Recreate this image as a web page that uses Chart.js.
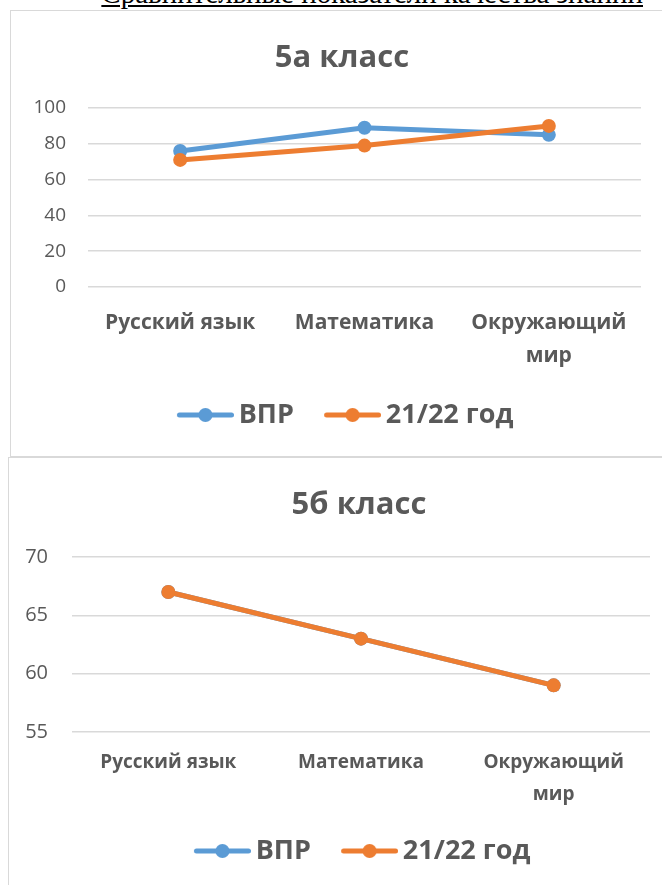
<!DOCTYPE html>
<html>
<head>
<meta charset="utf-8">
<script src="https://cdn.jsdelivr.net/npm/chart.js@4/dist/chart.umd.min.js"></script>
<style>
  html, body { margin: 0; padding: 0; background: #fff; overflow: hidden; }
  body { width: 662px; height: 885px; position: relative; }
  .caption {
    position: absolute; right: 19px; top: -21px;
    font-family: "Liberation Serif", serif; font-size: 29px; line-height: 29px;
    color: #000; text-decoration: underline; white-space: nowrap;
  }
  .box { position: absolute; border: 1px solid #d9d9d9; background: #fff; }
  #box1 { left: 10px; top: 10px; width: 700px; height: 445px; }
  #box2 { left: 8px; top: 457px; width: 720px; height: 440px; }
  canvas { position: absolute; left: 0; top: 0; }
</style>
</head>
<body>
<div class="caption">Сравнительные показатели качества знаний</div>
<div class="box" id="box1"><canvas id="chart1" width="662" height="445"></canvas></div>
<div class="box" id="box2"><canvas id="chart2" width="700" height="427"></canvas></div>
<script>
const categories = ['Русский язык', 'Математика', ['Окружающий', 'мир']];
const seriesNames = ['ВПР', '21/22 год'];

// 5а класс
const vpr5a = [76, 89, 85];
const year5a = [71, 79, 90];
const ticks5a = { min: 0, max: 100, step: 20 };

// 5б класс
const vpr5b = [67, 63, 59];
const year5b = [67, 63, 59];
const ticks5b = { min: 55, max: 70, step: 5 };

const BLUE = '#5B9BD5';
const ORANGE = '#ED7D31';
const TEXT = '#595959';
const GRID = '#D9D9D9';
const FONT = "'Open Sans', sans-serif";

// legend marker: line with a dot, pushed to the right side of the image
// so it sits close to its label and leaves a gap after the previous item
function makeMarker(color) {
    const c = document.createElement('canvas');
    c.width = 72; c.height = 16;
    const g = c.getContext('2d');
    g.strokeStyle = color;
    g.lineWidth = 5;
    g.lineCap = 'round';
    g.beginPath(); g.moveTo(17.5, 8); g.lineTo(69.5, 8); g.stroke();
    g.fillStyle = color;
    g.beginPath(); g.arc(43.5, 8, 7, 0, Math.PI * 2); g.fill();
    return c;
}
const markers = [makeMarker(BLUE), makeMarker(ORANGE)];

function makeChart(id, title, vpr, year, yt, opt) {
    const ctx = document.getElementById(id).getContext('2d');
    const ds = (label, data, color, order) => ({
        label: label,
        data: data,
        order: order, // orange drawn on top like in Excel
        borderColor: color,
        backgroundColor: color,
        borderWidth: 5,
        pointRadius: 7,
        pointHoverRadius: 7,
        pointBorderWidth: 0,
        tension: 0
    });
    return new Chart(ctx, {
        type: 'line',
        data: {
            labels: categories,
            datasets: [ds(seriesNames[0], vpr, BLUE, 1), ds(seriesNames[1], year, ORANGE, 0)]
        },
        options: {
            responsive: false,
            animation: false,
            layout: { padding: { left: 0, right: 0, top: 0, bottom: opt.padBottom } },
            plugins: {
                title: {
                    display: true,
                    text: title,
                    color: TEXT,
                    font: { family: FONT, size: 31, weight: 'bold', lineHeight: 1.2 },
                    padding: { top: 28.4, bottom: opt.titleBottom }
                },
                legend: {
                    position: 'bottom',
                    labels: {
                        color: TEXT,
                        font: { family: FONT, size: 27, weight: 'bold' },
                        usePointStyle: true,
                        pointStyleWidth: 54.5,
                        padding: 24,
                        sort: (a, b) => a.datasetIndex - b.datasetIndex,
                        generateLabels: (chart) =>
                            Chart.defaults.plugins.legend.labels.generateLabels(chart)
                                .map(l => Object.assign(l, { pointStyle: markers[l.datasetIndex] }))
                    }
                },
                tooltip: { enabled: false }
            },
            scales: {
                x: {
                    offset: true,
                    grid: { display: false, drawTicks: false },
                    border: { display: false },
                    ticks: {
                        color: TEXT,
                        maxRotation: 0,
                        autoSkip: false,
                        padding: opt.xPad,
                        font: { family: FONT, size: opt.xFont, weight: 'bold', lineHeight: opt.xLine }
                    },
                    afterFit: (s) => { s.height = opt.xHeight; }
                },
                y: {
                    min: yt.min,
                    max: yt.max,
                    grid: { color: GRID, lineWidth: 1.5, drawTicks: false },
                    border: { display: false },
                    ticks: {
                        stepSize: yt.step,
                        color: TEXT,
                        padding: opt.yPad,
                        font: { family: FONT, size: opt.yFont }
                    },
                    afterFit: (s) => { s.width = opt.yWidth; }
                },
                // empty right gutter so the title/legend stay centred on the whole box
                gutter: {
                    type: 'linear',
                    position: 'right',
                    grid: { display: false, drawTicks: false },
                    border: { display: false },
                    ticks: { display: false },
                    afterFit: (s) => { s.width = opt.rightGutter; }
                }
            }
        }
    });
}

makeChart('chart1', '5а класс', vpr5a, year5a, ticks5a, {
    padBottom: 17.5, titleBottom: 31.4, rightGutter: 32,
    xHeight: 90.5, xPad: 19.5, xFont: 21, xLine: 1.57,
    yWidth: 77, yPad: 22, yFont: 19
});

makeChart('chart2', '5б класс', vpr5b, year5b, ticks5b, {
    padBottom: 10.5, titleBottom: 33.4, rightGutter: 59,
    xHeight: 81.5, xPad: 15, xFont: 19, xLine: 1.68,
    yWidth: 63, yPad: 24, yFont: 20
});
</script>
</body>
</html>
